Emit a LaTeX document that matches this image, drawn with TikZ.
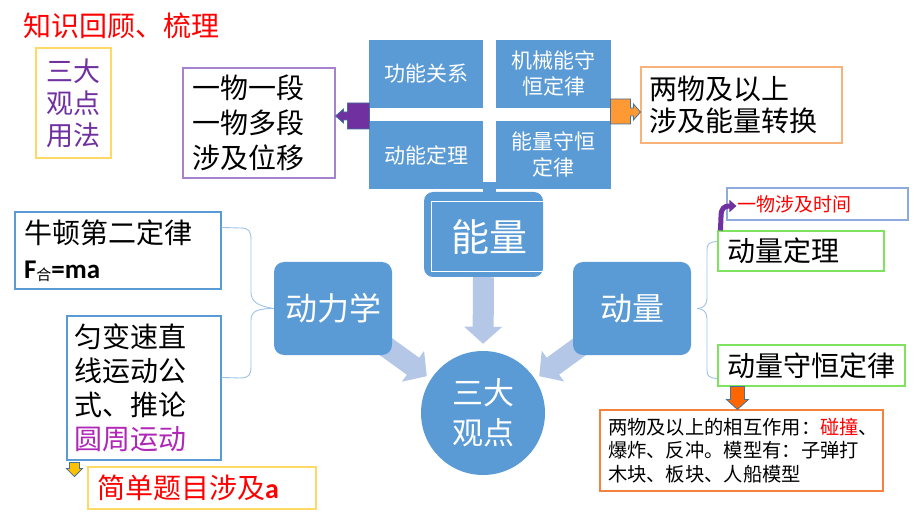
\documentclass[tikz,border=0pt]{standalone}
\usepackage{fontspec}
\setmainfont{Noto Sans CJK SC}
\newfontfamily\latb{Carlito}
\usetikzlibrary{positioning,calc,arrows.meta,backgrounds}

\definecolor{kblue}{HTML}{5B9BD5}
\definecolor{klight}{HTML}{B4C7E7}
\definecolor{kbrace}{HTML}{9DC3E6}
\definecolor{kpurple}{HTML}{7030A0}
\definecolor{kpurline}{HTML}{A783CF}
\definecolor{kyellow}{HTML}{FFD966}
\definecolor{korline}{HTML}{F8B37A}
\definecolor{kgreen}{HTML}{7FE35F}
\definecolor{kmagenta}{HTML}{B026B6}
\definecolor{korange}{HTML}{FF9933}
\definecolor{korred}{HTML}{FF6600}
\definecolor{kgold}{HTML}{FFC000}
\definecolor{koutl}{HTML}{41719C}
\definecolor{kbotline}{HTML}{F4823C}
\definecolor{kthin}{HTML}{8FAADC}

\tikzset{
  notebox/.style={draw, line width=1.1pt, fill=white, inner ysep=0pt, align=left},
  gridbox/.style={fill=kblue, text=white, minimum width=115pt, minimum height=68pt,
    inner sep=0pt, align=center, font=\fontsize{21}{26}\selectfont},
  mainbox/.style={fill=kblue, rounded corners=10pt, minimum width=118pt, minimum height=93pt,
    text=white, font=\fontsize{32}{36}\selectfont},
  bigarr/.style={draw=klight, line width=21pt, -{Triangle[length=17pt,width=37pt]}},
  brace/.style={draw=kbrace, line width=0.9pt},
  blockarr/.style={draw=koutl, line width=0.8pt, line join=miter}
}

\begin{document}
\begin{tikzpicture}[x=1pt,y=-1pt]
\useasboundingbox (0,0) rectangle (920,518);

\node[anchor=west, inner sep=0pt, text=red, font=\fontsize{28}{34}\selectfont] (title) at (23,26) {知识回顾、梳理};

\node[notebox, draw=kyellow, text=kpurple, minimum width=75pt, minimum height=110pt, inner xsep=0pt,
  align=center, font=\fontsize{27}{32}\selectfont] (yf) at (73.5,103) {三大\\观点\\用法};
\node[notebox, draw=kpurline, text width=134pt, inner xsep=9pt, minimum height=110pt,
  font=\fontsize{28}{35}\selectfont] (ywyd) at (259,123) {一物一段\\一物多段\\涉及位移};

% energy block
\node[gridbox, minimum width=114pt] (gngx) at (426,74) {功能关系};
\node[gridbox] (jxn) at (553.5,74) {机械能守\\恒定律};
\node[gridbox, minimum width=114pt] (dndl) at (426,155) {动能定理};
\node[gridbox] (nlsh) at (553.5,155) {能量守恒\\定律};
\fill[kblue] ($(dndl.south east)+(0,-7)$) rectangle ($(nlsh.south west)+(0,4)$);
\node[fill=kblue, rounded corners=9pt, minimum width=119pt, minimum height=85pt] (nlbg) at (483.5,234.5) {};
\node[draw=white, line width=1pt, minimum width=116pt, minimum height=70pt, inner sep=0pt,
  text=white, font=\fontsize{38}{40}\selectfont] (nl) at (489,237) {能量};

\node[notebox, draw=korline, text width=185pt, inner xsep=8pt, minimum height=76pt,
  font=\fontsize{28}{32}\selectfont] (lw) at (741.5,105) {两物及以上\\涉及能量转换};

\node[mainbox] (dlx) at (333,308.5) {动力学};
\node[mainbox] (dl) at (632,308.5) {动量};
\node[circle, fill=kblue, minimum size=124pt, inner sep=0pt, text=white, align=center,
  font=\fontsize{31}{40}\selectfont] (sdgd) at (483,413) {三大\\观点};

% dynamics side
\node[notebox, draw=kblue, text width=188pt, inner xsep=9pt, minimum height=77pt,
  font=\fontsize{28}{35}\selectfont] (nd) at (118,250.5)
  {牛顿第二定律\\{\latb\bfseries\fontsize{27}{35}\selectfont F\raisebox{-2pt}{\rmfamily\mdseries\fontsize{15}{15}\selectfont 合}=ma}};
\node[notebox, draw=kblue, text width=140pt, inner xsep=7pt, minimum height=144pt,
  font=\fontsize{28}{34}\selectfont] (ybs) at (144,388)
  {匀变速直\\线运动公\\式、推论\\\textcolor{kmagenta}{圆周运动}};
\node[notebox, draw=kyellow, text=red, text width=210pt, inner xsep=9pt, minimum height=42pt,
  font=\fontsize{28}{34}\selectfont] (jd) at (202,488) {简单题目涉及{\latb\bfseries a}};

% momentum side
\node[notebox, draw=kgreen, text width=148pt, inner xsep=9pt, minimum height=40pt,
  font=\fontsize{28}{34}\selectfont] (dldl) at (801,251) {动量定理};
\node[notebox, draw=kgreen, text width=169pt, inner xsep=9pt, minimum height=41pt,
  font=\fontsize{28}{34}\selectfont] (dlsh) at (811.5,365.5) {动量守恒定律};
\node[notebox, draw=kthin, text=red, text width=161pt, inner xsep=10pt, minimum height=32pt,
  font=\fontsize{19}{24}\selectfont] (ywsj) at (817.5,204) {一物涉及时间};
\node[notebox, draw=kbotline, text width=267pt, inner xsep=8pt, minimum height=81pt,
  font=\fontsize{19.3}{23.5}\selectfont] (hx) at (741.5,450.5)
  {两物及以上的相互作用：\textcolor{red}{碰撞}、\\爆炸、反冲。模型有：子弹打\\木块、板块、人船模型};

\begin{scope}[on background layer]
\draw[bigarr, shorten >=7pt] (nlbg.south) -- (sdgd.north);
\draw[bigarr, shorten >=5pt] (dlx.center) -- (sdgd.147);
\draw[bigarr, shorten >=5pt] (dl.center) -- (sdgd.33);
\end{scope}

% braces
\draw[brace] ($(nd.north east)+(0,16)$) -- (240,228) .. controls (249,228) and (251,231) .. (251,240)
  -- (251,292) .. controls (251,302) and (258,306) .. (dlx.west);
\draw[brace] ($(ybs.north east)+(0,62)$) -- (240,378) .. controls (249,378) and (251,375) .. (251,366)
  -- (251,320) .. controls (251,311) and (258,308.5) .. (dlx.west);
\draw[brace] ($(dl.east)+(6,0)$) .. controls (703,308.5) and (707,305) .. (707,298)
  -- (707,250) .. controls (707,244) and (709,242) .. ($(dldl.north west)+(0,11)$);
\draw[brace] ($(dl.east)+(6,0)$) .. controls (703,308.5) and (707,312) .. (707,319)
  -- (707,370) .. controls (707,376) and (709,378) .. ($(dlsh.south west)+(0,-8)$);

% block arrows
\draw[blockarr, fill=kpurple] ($(ywyd.east)+(0,-7)$) -- ++(8,-7) -- ++(0,3) -- ++(4,0) -- ++(0,-9)
  -- ++(22,0) -- ++(0,26) -- ++(-22,0) -- ++(0,-9) -- ++(-4,0) -- ++(0,3) -- cycle;
\draw[blockarr, fill=korange] ($(lw.west)+(0,7)$) -- ++(-7,-8) -- ++(0,4) -- ++(-3,0) -- ++(0,-9)
  -- ++(-20,0) -- ++(0,25) -- ++(20,0) -- ++(0,-8) -- ++(3,0) -- ++(0,4) -- cycle;
\draw[blockarr, fill=kgold] ($(ybs.south west)+(8,16)$) -- ++(-8,-8) -- ++(3,0) -- ++(0,-6)
  -- ++(10,0) -- ++(0,6) -- ++(3,0) -- cycle;
\draw[blockarr, fill=korred] ($(hx.north west)+(138,0)$) -- ++(-11,-10) -- ++(4,0) -- ++(0,-13)
  -- ++(14,0) -- ++(0,13) -- ++(4,0) -- cycle;
\draw[kpurple, line width=5pt, -{Triangle[length=7pt,width=12pt]}] ($(dldl.north west)+(3,0)$)
  -- (721,217) .. controls (721,208) and (724,206) .. ($(ywsj.west)+(10,2)$);
\end{tikzpicture}
\end{document}
